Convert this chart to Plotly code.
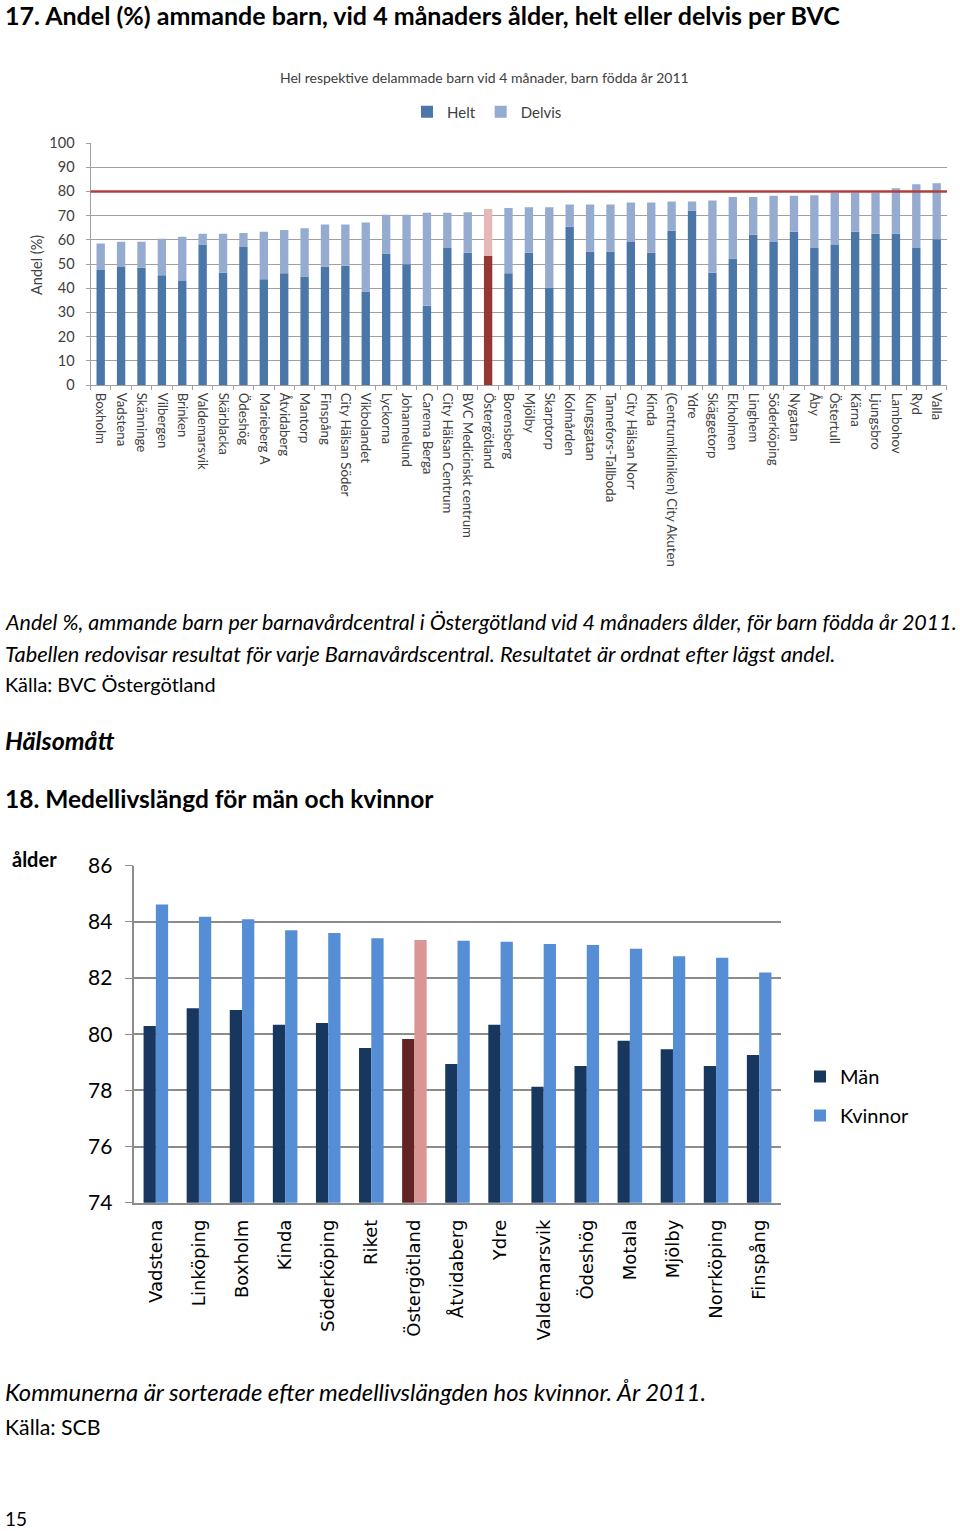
import plotly.graph_objects as go

# ---------------- Chart 17 data ----------------
bvc = ["Boxholm", "Vadstena", "Skänninge", "Vilbergen", "Brinken", "Valdemarsvik",
       "Skärblacka", "Ödeshög", "Marieberg A", "Åtvidaberg", "Mantorp", "Finspång",
       "City Hälsan Söder", "Vikbolandet", "Lyckorna", "Johannelund", "Carema Berga",
       "City Hälsan Centrum", "BVC Medicinskt centrum", "Östergötland", "Borensberg",
       "Mjölby", "Skarptorp", "Kolmården", "Kungsgatan", "Tannefors-Tallboda",
       "City Hälsan Norr", "Kinda", "(Centrumkliniken) City Akuten", "Ydre",
       "Skäggetorp", "Ekholmen", "Linghem", "Söderköping", "Nygatan", "Åby",
       "Östertull", "Kärna", "Ljungsbro", "Lambohov", "Ryd", "Valla"]
helt = [47.5, 48.8, 48.4, 45.3, 43.0, 58.1, 46.4, 57.0, 43.7, 46.2, 44.8, 48.8,
        49.3, 38.5, 54.3, 49.9, 32.7, 56.6, 54.7, 53.4, 46.2, 54.7, 40.1, 65.4,
        55.1, 55.1, 59.1, 54.7, 63.7, 72.0, 46.4, 52.3, 62.1, 59.1, 63.3, 56.6,
        57.8, 63.3, 62.5, 62.5, 56.6, 60.2]
delvis = [11.0, 10.4, 10.8, 15.1, 18.3, 4.4, 16.1, 5.8, 19.6, 17.8, 20.0, 17.5,
          17.0, 28.7, 16.0, 20.4, 38.5, 14.6, 16.7, 19.3, 26.9, 18.7, 33.3, 9.2,
          19.5, 19.5, 16.3, 20.7, 12.1, 3.8, 29.8, 25.4, 15.6, 19.1, 14.9, 21.8,
          21.6, 16.1, 16.9, 18.8, 26.4, 23.2]
target = 80
y1_ticks = [0, 10, 20, 30, 40, 50, 60, 70, 80, 90, 100]

# ---------------- Chart 18 data ----------------
kommun = ["Vadstena", "Linköping", "Boxholm", "Kinda", "Söderköping", "Riket",
          "Östergötland", "Åtvidaberg", "Ydre", "Valdemarsvik", "Ödeshög", "Motala",
          "Mjölby", "Norrköping", "Finspång"]
man = [80.29, 80.92, 80.86, 80.34, 80.40, 79.51, 79.83, 78.94, 80.34, 78.13,
       78.87, 79.77, 79.46, 78.87, 79.26]
kvinnor = [84.62, 84.18, 84.09, 83.70, 83.60, 83.42, 83.35, 83.33, 83.29, 83.21,
           83.18, 83.04, 82.78, 82.72, 82.20]
y2_ticks = [74, 76, 78, 80, 82, 84, 86]

HL = "Östergötland"
W, H = 960, 1531
FONT = "Lato"


def px(x):
    return x / W


def py(y):
    return 1 - y / H


c_helt = ["#953735" if b == HL else "#4a76a8" for b in bvc]
c_delvis = ["#e6b9b8" if b == HL else "#95abcf" for b in bvc]
c_man = ["#632523" if k == HL else "#17375e" for k in kommun]
c_kv = ["#d99694" if k == HL else "#558ed5" for k in kommun]

fig = go.Figure()
fig.add_trace(go.Bar(x=bvc, y=helt, name="Helt", marker=dict(color=c_helt, line_width=0),
                     width=0.41, offset=-0.205, xaxis="x", yaxis="y", legend="legend",
                     hoverinfo="x+y"))
fig.add_trace(go.Bar(x=bvc, y=delvis, base=helt, name="Delvis",
                     marker=dict(color=c_delvis, line_width=0),
                     width=0.41, offset=-0.205, xaxis="x", yaxis="y", legend="legend",
                     hoverinfo="x+y"))
fig.add_trace(go.Bar(x=kommun, y=man, name="Män", marker=dict(color=c_man, line_width=0),
                     width=0.285, offset=-0.285, xaxis="x2", yaxis="y2", legend="legend2",
                     legendgroup="m"))
fig.add_trace(go.Bar(x=kommun, y=kvinnor, name="Kvinnor", marker=dict(color=c_kv, line_width=0),
                     width=0.285, offset=0, xaxis="x2", yaxis="y2", legend="legend2",
                     legendgroup="k"))

fig.add_shape(type="line", xref="x domain", yref="y", x0=0, x1=1, y0=target, y1=target,
              line=dict(color="#b0403c", width=2.5), layer="above")

grid1 = "#a0a0a0"
grid2 = "#8c8c8c"

fig.update_layout(
    template="none",
    width=W, height=H,
    margin=dict(l=0, r=0, t=0, b=0, pad=0, autoexpand=False),
    paper_bgcolor="white", plot_bgcolor="white",
    barmode="group",
    font=dict(family=FONT, color="#000000"),
    showlegend=True,
    xaxis=dict(domain=[px(90.5), px(946.9)], anchor="y", type="category", automargin=False,
               tickangle=90, tickfont=dict(size=13.3, color="#404040", family=FONT),
               showline=True, linecolor=grid1, linewidth=1,
               ticks="outside", tickson="boundaries", ticklen=4, tickcolor=grid1,
               showgrid=False, ticklabelstandoff=4),
    yaxis=dict(domain=[py(385), py(143)], anchor="x", range=[0, 100], automargin=False,
               tickvals=y1_ticks, tickfont=dict(size=14.5, color="#404040", family=FONT),
               showline=True, linecolor=grid1, linewidth=1,
               ticks="outside", ticklen=4, tickcolor=grid1,
               showgrid=True, gridcolor=grid1, gridwidth=1, zeroline=False,
               ticklabelstandoff=8),
    xaxis2=dict(domain=[px(134.3), px(780.7)], anchor="y2", type="category", automargin=False,
                tickangle=-90, tickfont=dict(size=18, color="#000000", family="DejaVu Sans"),
                showline=True, linecolor=grid2, linewidth=1.5, ticks="",
                showgrid=False, ticklabelstandoff=8),
    yaxis2=dict(domain=[py(1202.7), py(865.7)], anchor="x2", range=[74, 86], automargin=False,
                tickvals=y2_ticks, tickfont=dict(size=21, color="#000000", family=FONT),
                showline=True, linecolor=grid2, linewidth=1.5,
                ticks="outside", ticklen=8, tickcolor=grid2,
                showgrid=True, gridcolor=grid2, gridwidth=1.5, zeroline=False,
                ticklabelstandoff=8),
    legend=dict(orientation="h", x=px(487), xanchor="center", y=py(112), yanchor="middle",
                font=dict(size=15, color="#404040", family=FONT), itemwidth=30,
                bgcolor="rgba(0,0,0,0)"),
    legend2=dict(orientation="v", x=px(800), xanchor="left", y=py(1057), yanchor="top",
                 font=dict(size=20, color="#000000", family=FONT), itemwidth=30,
                 tracegroupgap=10, bgcolor="rgba(0,0,0,0)"),
)

texts = [
    (3, 15, "<b>17. Andel (%) ammande barn, vid 4 månaders ålder, helt eller delvis per BVC</b>", 25, "#000000"),
    (3, 622, "<i>Andel %, ammande barn per barnavårdcentral i Östergötland vid 4 månaders ålder, för barn födda år 2011.</i>", 21.5, "#000000"),
    (3, 653, "<i>Tabellen redovisar resultat för varje Barnavårdscentral. Resultatet är ordnat efter lägst andel.</i>", 21.8, "#000000"),
    (3, 684, "Källa: BVC Östergötland", 19.9, "#000000"),
    (3, 740, "<b><i>Hälsomått</i></b>", 25, "#000000"),
    (3, 799, "<b>18. Medellivslängd för män och kvinnor</b>", 24.5, "#000000"),
    (10, 859, "<b>ålder</b>", 20, "#000000"),
    (3, 1392, "<i>Kommunerna är sorterade efter medellivslängden hos kvinnor. År 2011.</i>", 23.8, "#000000"),
    (3, 1427, "Källa: SCB", 21.3, "#000000"),
    (3, 1518, "15", 19, "#000000"),
]
for x, y, t, s, c in texts:
    fig.add_annotation(x=px(x), y=py(y), xref="paper", yref="paper", text=t, showarrow=False,
                       xanchor="left", yanchor="middle", font=dict(size=s, color=c, family=FONT))

fig.add_annotation(x=px(484), y=py(78), xref="paper", yref="paper", showarrow=False,
                   text="Hel respektive delammade barn vid 4 månader, barn födda år 2011",
                   xanchor="center", yanchor="middle",
                   font=dict(size=14, color="#404040", family=FONT))
fig.add_annotation(x=px(36), y=py(265), xref="paper", yref="paper", showarrow=False,
                   text="Andel (%)", textangle=-90, xanchor="center", yanchor="middle",
                   font=dict(size=14.5, color="#404040", family=FONT))

fig.write_html("out.html", config={"displayModeBar": False},
               post_script="document.body.style.margin='0px';document.body.style.padding='0px';")
